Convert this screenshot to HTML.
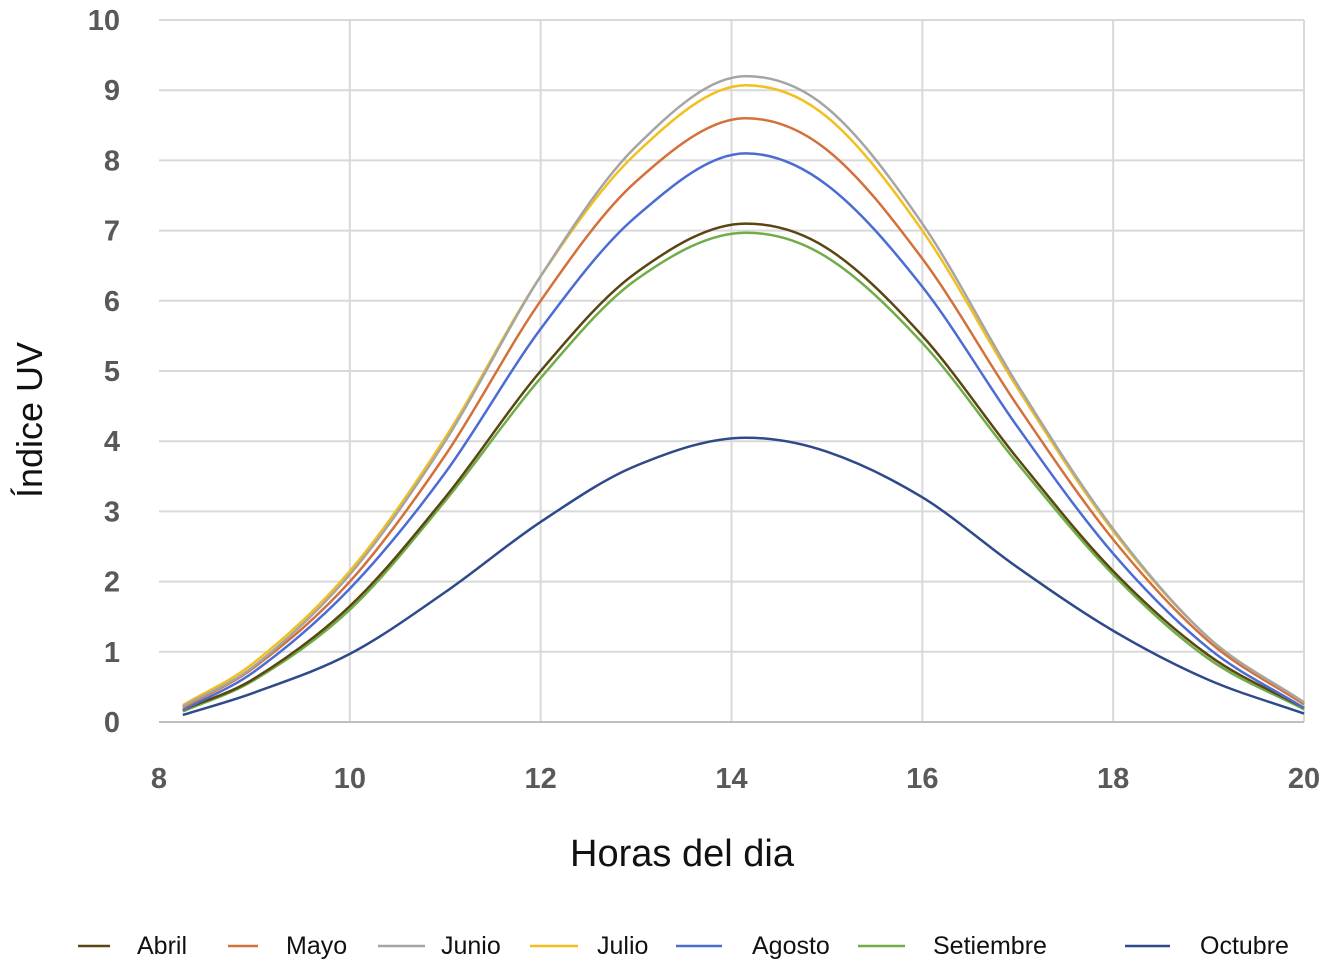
<!DOCTYPE html>
<html><head><meta charset="utf-8"><style>
html,body{margin:0;padding:0;background:#fff;}
svg text{font-family:"Liberation Sans",sans-serif;}
</style></head><body>
<svg id="chart" width="1333" height="968" xmlns="http://www.w3.org/2000/svg">
<g id="grid"></g>
<g id="series"></g>
<g id="ticks"></g>
<text x="682" y="866" text-anchor="middle" font-size="38" fill="#111">Horas del dia</text>
<text transform="translate(42,420) rotate(-90)" text-anchor="middle" font-size="36" fill="#111">Índice UV</text>
<g id="legend"></g>
</svg>
<script>
const hours = [8.25, 9, 10, 11, 12, 13, 14.15, 15, 16, 17, 18, 19, 20];
const seriesNames = ["Abril","Mayo","Junio","Julio","Agosto","Setiembre","Octubre"];
const abril = [0.17,0.62,1.65,3.2,5.0,6.4,7.1,6.75,5.5,3.75,2.15,0.95,0.2];
const mayo = [0.2,0.78,2.0,3.8,6.0,7.7,8.6,8.15,6.6,4.5,2.6,1.15,0.25];
const junio = [0.22,0.8,2.1,4.0,6.35,8.2,9.2,8.75,7.1,4.8,2.75,1.2,0.28];
const julio = [0.24,0.85,2.15,4.05,6.35,8.1,9.07,8.62,7.0,4.75,2.72,1.2,0.28];
const agosto = [0.17,0.72,1.9,3.55,5.6,7.2,8.1,7.65,6.2,4.2,2.4,1.05,0.2];
const setiembre = [0.15,0.6,1.6,3.15,4.9,6.3,6.97,6.62,5.4,3.68,2.1,0.9,0.18];
const octubre = [0.1,0.42,0.97,1.85,2.85,3.65,4.05,3.85,3.2,2.2,1.3,0.6,0.12];
const xTicks = [8,10,12,14,16,18,20];
const yTicks = [0,1,2,3,4,5,6,7,8,9,10];

const colors = ["#5a4612","#d4703a","#a5a5a5","#f2c01e","#4a6cd4","#70ad47","#2e4a8a"];
const allSeries = [abril,mayo,junio,julio,agosto,setiembre,octubre];
const NS="http://www.w3.org/2000/svg";
const X = h => 159 + (h-8)*(1304-159)/12;
const Y = v => 722 - v*70.2;
function mk(tag, attrs, parent){const e=document.createElementNS(NS,tag);for(const k in attrs)e.setAttribute(k,attrs[k]);parent.appendChild(e);return e;}
const grid=document.getElementById('grid'), ticks=document.getElementById('ticks'), ser=document.getElementById('series'), leg=document.getElementById('legend');
yTicks.forEach(v=>{
  if(v>0){const l=mk('line',{x1:159,x2:1304,y1:Y(v),y2:Y(v),stroke:'#d9d9d9','stroke-width':2},grid);
  
  }
  const t=mk('text',{x:120,y:Y(v)+10,'text-anchor':'end','font-size':29,'font-weight':'bold',fill:'#595959'},ticks);t.textContent=v;
  
  
});
xTicks.forEach(h=>{
  if(h>8){const l=mk('line',{x1:X(h),x2:X(h),y1:Y(10),y2:Y(0),stroke:'#d9d9d9','stroke-width':2},grid);
  
  }
  const t=mk('text',{x:X(h),y:788,'text-anchor':'middle','font-size':29,'font-weight':'bold',fill:'#595959'},ticks);t.textContent=h;
  
  
});
const ax=mk('line',{x1:159,x2:1304,y1:Y(0),y2:Y(0),stroke:'#bfbfbf','stroke-width':2},grid);


function path(vals){
  const n=hours.length;
  const m=hours.map((h,i)=>{
    if(i===0) return (vals[1]-vals[0])/(hours[1]-hours[0]);
    if(i===n-1) return (vals[n-1]-vals[n-2])/(hours[n-1]-hours[n-2]);
    if(vals[i]>=vals[i-1]&&vals[i]>=vals[i+1]) return 0;
    return (vals[i+1]-vals[i-1])/(hours[i+1]-hours[i-1]);
  });
  let d=`M${X(hours[0])},${Y(vals[0])}`;
  for(let i=0;i<n-1;i++){
    const dx=hours[i+1]-hours[i];
    const c1h=hours[i]+dx/3, c1v=vals[i]+m[i]*dx/3;
    const c2h=hours[i+1]-dx/3, c2v=vals[i+1]-m[i+1]*dx/3;
    d+=` C${X(c1h)},${Y(c1v)} ${X(c2h)},${Y(c2v)} ${X(hours[i+1])},${Y(vals[i+1])}`;
  }
  return d;
}
const drawOrder=[6,5,0,4,1,3,2];
drawOrder.forEach(i=>{
  const el=mk('path',{d:path(allSeries[i]),fill:'none',stroke:colors[i],'stroke-width':2.5},ser);
  
  
});
const legLines=[[78,110,137],[228,258,286],[378,425,441],[530,578,597],[676,722,752],[858,905,933],[1125,1170,1200]];
seriesNames.forEach((n,i)=>{
  const g=mk('g',{},leg);
  
  
  const [a,b,c]=legLines[i];
  mk('line',{x1:a,x2:b,y1:946,y2:946,stroke:colors[i],'stroke-width':2.5},g);
  const t=mk('text',{x:c,y:954,'font-size':25,fill:'#111'},g);t.textContent=n;
});
</script>
</body></html>
